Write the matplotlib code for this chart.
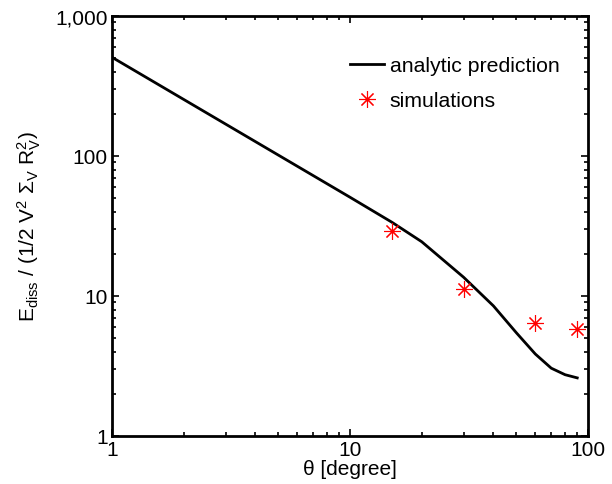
import numpy as np
import matplotlib.pyplot as plt
from matplotlib.ticker import FuncFormatter, LogLocator, NullFormatter

plt.rcParams['font.family'] = ['Liberation Sans', 'DejaVu Sans']
plt.rcParams['mathtext.fontset'] = 'custom'
plt.rcParams['mathtext.rm'] = 'Liberation Sans'
plt.rcParams['mathtext.it'] = 'Liberation Sans:italic'

# analytic curve
theta_model = [1, 10, 15, 20, 30, 40, 50, 60, 70, 80, 90]
e_model = [507, 50.7, 33.6, 24.4, 13.6, 8.5, 5.45, 3.85, 3.05, 2.74, 2.6]

# simulation results
theta_sim = [15, 30, 60, 90]
e_sim = [29.0, 11.2, 6.4, 5.8]

fig = plt.figure(figsize=(6.12, 4.85), dpi=100)
ax = fig.add_axes([0.183, 0.099, 0.778, 0.866])

ax.plot(theta_model, e_model, color='black', lw=2, label='analytic prediction')
ax.plot(theta_sim, e_sim, ls='none', marker=(8, 2, 0), ms=12, mew=0.8,
        color='red', label='simulations')

ax.set_xscale('log')
ax.set_yscale('log')
ax.set_xlim(1, 100)
ax.set_ylim(1, 1000)

ax.xaxis.set_major_formatter(FuncFormatter(lambda v, p: f'{v:,.0f}'))
ax.yaxis.set_major_formatter(FuncFormatter(lambda v, p: f'{v:,.0f}'))
for axis in (ax.xaxis, ax.yaxis):
    axis.set_minor_locator(LogLocator(base=10, subs=np.arange(2, 10)))
    axis.set_minor_formatter(NullFormatter())

ax.tick_params(which='both', direction='in', top=True, right=True,
               labelsize=15, width=1.2, pad=3)
ax.tick_params(which='major', length=5)
ax.tick_params(which='minor', length=3)
for s in ax.spines.values():
    s.set_linewidth(2)

ax.set_xlabel('θ [degree]', fontsize=15, labelpad=0)
ax.set_ylabel(r'E$_{\rm diss}$ / (1/2 V$^2$ $\Sigma_{\rm V}$ R$_{\rm V}^2$)',
              fontsize=15, labelpad=9)

ax.legend(loc='upper right', frameon=False, fontsize=15.3, handlelength=1.6,
          handletextpad=0.25, labelspacing=0.75, bbox_to_anchor=(0.98, 0.95))

fig.savefig('out.png', dpi=100)
